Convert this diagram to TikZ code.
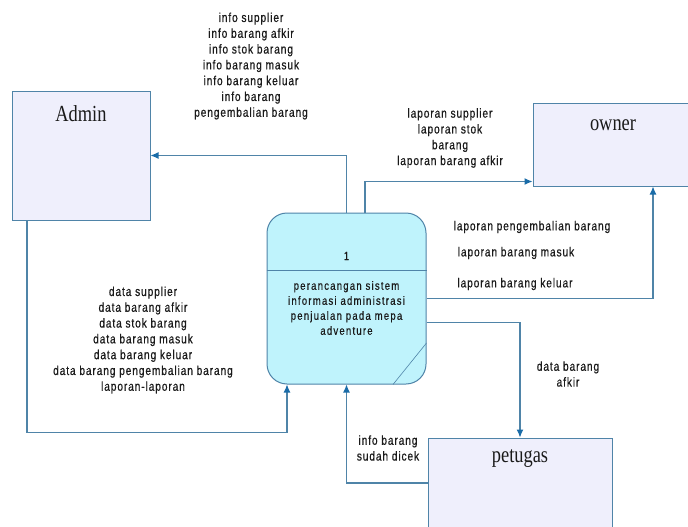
\documentclass[tikz,border=0pt]{standalone}
\usepackage{fontspec}
\setmainfont{Liberation Sans}
\newfontfamily\entityfont[FakeStretch=0.8]{Liberation Serif}
\newfontfamily\flowfont[FakeStretch=0.78, LetterSpace=7, FakeBold=0.6]{Liberation Sans}
\newfontfamily\procfont[FakeStretch=0.8, LetterSpace=10, FakeBold=0.3]{Liberation Sans}
\usetikzlibrary{arrows.meta,positioning}
\definecolor{edgeblue}{HTML}{4F84A8}
\definecolor{tipblue}{HTML}{1A6CA8}
\definecolor{entityfill}{HTML}{EFEFFC}
\definecolor{procfill}{HTML}{BFF3FC}
\definecolor{labelgray}{HTML}{1A1A1A}
\tikzset{
  entity/.style={draw=edgeblue, fill=entityfill, line width=1pt, inner sep=0pt},
  entitytext/.style={font=\entityfont\fontsize{23}{26}\selectfont, text=labelgray},
  proc/.style={draw=edgeblue, fill=procfill, line width=1pt, rounded corners=20pt, inner sep=0pt},
  proctext/.style={font=\procfont\fontsize{12}{15}\selectfont, align=center, text=labelgray},
  flow/.style={draw=edgeblue, line width=1.1pt, -{Latex[length=8pt,width=7pt,color=tipblue]}},
  flowtext/.style={font=\flowfont\fontsize{13}{15.8}\selectfont, align=center, text=labelgray},
}

\begin{document}
\begin{tikzpicture}[x=1pt, y=-1pt]
		%%%%% START %%%%%
		\path[use as bounding box, fill=white] (0, 0) rectangle (688, 527);
		\clip (0, 0) rectangle (688, 527);
		
		% external entities
		\node[entity, minimum width=138pt, minimum height=129pt] (admin) at (81, 155.5) {};
		\node[entitytext] (admintitle) at (81, 114) {Admin};
		\node[entity, minimum width=160pt, minimum height=83pt] (owner) at (613, 144.5) {};
		\node[entitytext] (ownertitle) at (613, 125) {owner};
		\node[entity, minimum width=184pt, minimum height=122pt] (petugas) at (520, 499) {};
		\node[entitytext] (petugastitle) at (520, 459) {petugas};
		
		% process
		\node[proc, minimum width=159pt, minimum height=171pt] (proc) at (346.5, 298.5) {};
		\draw[edgeblue, line width=0.9pt] ([yshift=-58pt]proc.north west) -- ([yshift=-58pt]proc.north east);
		\draw[edgeblue, line width=0.6pt] ([yshift=-44.5pt]proc.east) -- ([xshift=46.5pt]proc.south);
		\node[proctext] (procnum) at (346.5, 256) {1};
		\node[proctext] (procname) at (346.5, 308) {perancangan sistem\\informasi administrasi\\penjualan pada mepa\\adventure};
		
		% data flows
		\draw[flow] (proc.north) |- (admin.east);
		\draw[flow] ([xshift=18.5pt]proc.north) |- ([yshift=-37pt]owner.west);
		\draw[flow] (proc.east) -| ([xshift=40pt]owner.south);
		\draw[flow] ([yshift=-24pt]proc.east) -| (petugas.north);
		\draw[flow] ([yshift=16pt]petugas.west) -| (proc.south);
		\draw[flow] ([xshift=-54pt]admin.south) -- ++(0, 212) -| ([xshift=-59.5pt]proc.south);
		
		% flow labels
		\node[flowtext] (infolist) at (251, 66) {info supplier\\info barang afkir\\info stok barang\\info barang masuk\\info barang keluar\\info barang\\pengembalian barang};
		\node[flowtext] (laporanlist) at (450, 138) {laporan supplier\\laporan stok\\barang\\laporan barang afkir};
		\node[flowtext] (laporankembali) at (532, 227) {laporan pengembalian barang};
		\node[flowtext] (laporanmasuk) at (516, 253) {laporan barang masuk};
		\node[flowtext] (laporankeluar) at (515, 284) {laporan barang keluar};
		\node[flowtext] (afkirlabel) at (568, 374) {data barang\\afkir};
		\node[flowtext] (dicekLabel) at (388, 448) {info barang\\sudah dicek};
		\node[flowtext] (datalist) at (143, 340) {data supplier\\data barang afkir\\data stok barang\\data barang masuk\\data barang keluar\\data barang pengembalian barang\\laporan-laporan};
		
		%%%%% END %%%%%
\end{tikzpicture}
\end{document}
